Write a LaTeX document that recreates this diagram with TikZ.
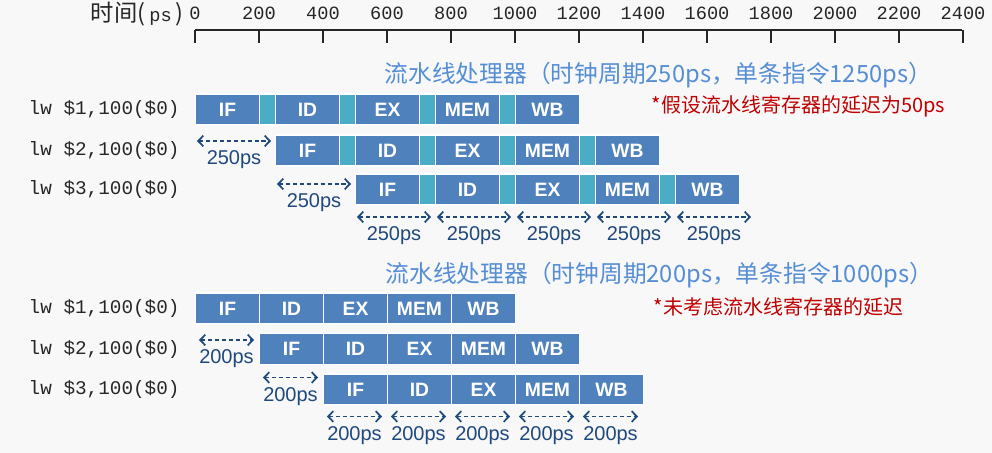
\documentclass[tikz,border=0pt]{standalone}
\usepackage{fontspec}
\setmainfont{Liberation Sans}
\setmonofont{Liberation Mono}
\newfontfamily\cjk{Noto Sans CJK SC}
\usetikzlibrary{arrows.meta}
\definecolor{bggray}{HTML}{F8F8F8}
\definecolor{stageblue}{HTML}{4F81BD}
\definecolor{regteal}{HTML}{4BACC6}
\definecolor{titleblue}{HTML}{558ED5}
\definecolor{gapnavy}{HTML}{1F497D}
\definecolor{notered}{HTML}{C00000}
\tikzset{
	stagebox/.style={fill=stageblue, draw=white, line width=0.8pt, anchor=west,
		minimum width=48pt, minimum height=23.25pt, inner sep=0pt, text=white,
		font=\bfseries\fontsize{14.5}{14.5}\selectfont},
	regbox/.style={stagebox, fill=regteal, minimum width=12pt},
	instr/.style={anchor=west, text=black!85, font=\ttfamily\fontsize{14.5}{15}\selectfont},
	ticklabel/.style={text=black!85, font=\ttfamily\fontsize{14}{14}\selectfont},
	title/.style={anchor=west, text=titleblue, font=\cjk\fontsize{17.8}{18}\selectfont},
	note/.style={anchor=west, text=notered, font=\cjk\fontsize{15}{16}\selectfont},
	gaparrow/.style={gapnavy, line width=1.3pt, dash pattern=on 3.2pt off 2pt,
		{Straight Barb[length=3.8pt,width=8pt]}-{Straight Barb[length=3.8pt,width=8pt]}},
	gaplabel/.style={midway, yshift=-14pt, text=gapnavy, font=\fontsize{15}{15}\selectfont}
}
\begin{document}
\begin{tikzpicture}[x=0.75pt, y=-0.75pt]
	% BACKGROUND
	\fill[bggray] (0,0) rectangle (992,453);
	
	% TIME AXIS
	\node[anchor=east, text=black!85, inner sep=0pt] (tlabel) at (184,14)
		{{\cjk\fontsize{17.5}{17.5}\selectfont 时间(}\hspace{3pt}{\ttfamily\fontsize{14}{14}\selectfont ps}\hspace{3pt}{\cjk\fontsize{17.5}{17.5}\selectfont )}};
	\draw[line width=1pt, black!85] (195,30) -- (962,30);
	\foreach \t in {0,...,12} {
		\pgfmathtruncatemacro{\ps}{200*\t}
		\draw[line width=1pt, black!85] ({195+64*\t},30) -- ++(0,13);
		\node[ticklabel] (tick\t) at ({195+64*\t},13) {\ps};
	}
	
	% UPPER PIPELINE, CLOCK 250PS (WITH PIPELINE REGISTERS)
	\node[title] (utitle) at (380,75) {流水线处理器（时钟周期250ps，单条指令1250ps）};
	\node[note] (unote) at (647,106.5) {*假设流水线寄存器的延迟为50ps};
	\foreach \r/\y in {1/109.5,2/150.5,3/189.5} {
		\node[instr] (uinstr\r) at (24,\y) {lw \$\r,100(\$0)};
		\foreach \s [count=\i from 0] in {IF,ID,EX,MEM,WB} {
			\node[stagebox] (u\r\s) at ({195+80*(\r-1)+80*\i},\y) {\s};
			\ifnum\i<4
				\node[regbox] (u\r-reg\i) at ({259+80*(\r-1)+80*\i},\y) {};
			\fi
		}
	}
	% 250ps gaps
	\coordinate (ug1a) at (197,141); \coordinate (ug1b) at (271,141);
	\coordinate (ug2a) at (277,184); \coordinate (ug2b) at (351,184);
	\foreach \g in {1,2}
		\draw[gaparrow] (ug\g a) -- node[gaplabel] {250ps} (ug\g b);
	\foreach \k in {0,...,4} {
		\coordinate (ub\k a) at ({357+80*\k},217);
		\coordinate (ub\k b) at ({431+80*\k},217);
		\draw[gaparrow] (ub\k a) -- node[gaplabel] {250ps} (ub\k b);
	}
	
	% LOWER PIPELINE, CLOCK 200PS (NO REGISTER DELAY)
	\node[title] (ltitle) at (381,275) {流水线处理器（时钟周期200ps，单条指令1000ps）};
	\node[note] (lnote) at (649,306.5) {*未考虑流水线寄存器的延迟};
	\foreach \r/\y in {1/308.5,2/349,3/389.5} {
		\node[instr] (linstr\r) at (24,\y) {lw \$\r,100(\$0)};
		\foreach \s [count=\i from 0] in {IF,ID,EX,MEM,WB}
			\node[stagebox] (l\r\s) at ({195+64*(\r-1)+64*\i},\y) {\s};
	}
	% 200ps gaps
	\coordinate (lg1a) at (199,340); \coordinate (lg1b) at (254,340);
	\coordinate (lg2a) at (263,377.5); \coordinate (lg2b) at (318,377.5);
	\foreach \g in {1,2}
		\draw[gaparrow] (lg\g a) -- node[gaplabel] {200ps} (lg\g b);
	\foreach \k in {0,...,4} {
		\coordinate (lb\k a) at ({327+64*\k},416.5);
		\coordinate (lb\k b) at ({382+64*\k},416.5);
		\draw[gaparrow] (lb\k a) -- node[gaplabel] {200ps} (lb\k b);
	}
\end{tikzpicture}
\end{document}
